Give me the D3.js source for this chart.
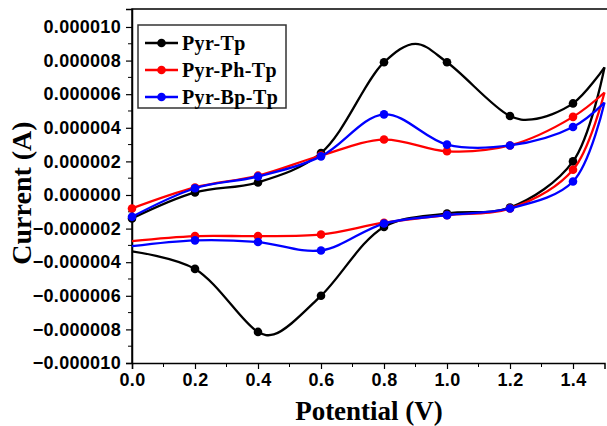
<!DOCTYPE html>
<html>
<head>
<meta charset="utf-8">
<script src="https://cdn.jsdelivr.net/npm/d3@7"></script>
<style>
  body { margin: 0; background: #fff; }
  .tick text { font-family: "Liberation Sans", Arial, sans-serif; font-weight: bold; font-size: 18px; letter-spacing: 0.3px; fill: #000; }
  .title { font-family: "Liberation Serif", "Times New Roman", serif; font-weight: bold; font-size: 27px; }
  .leg { font-family: "Liberation Serif", "Times New Roman", serif; font-weight: bold; font-size: 20px; letter-spacing: 0.4px; }
</style>
</head>
<body>
<script>
// current values in microamps (x 1e-6 A)
const seriesNames = ["Pyr-Tp", "Pyr-Ph-Tp", "Pyr-Bp-Tp"];
const seriesColors = ["#000000", "#ff0000", "#0000ff"];

// forward scan 0 -> 1.5 V, reverse scan 1.5 -> 0 V
const tpFwdV = [0, 0.2, 0.4, 0.6, 0.8, 0.9, 1.0, 1.2, 1.27, 1.4, 1.5];
const tpFwdI = [-1.4, 0.15, 0.75, 2.5, 7.9, 9.0, 7.9, 4.7, 4.5, 5.45, 7.6];
const tpRevV = [1.5, 1.4, 1.2, 1.0, 0.8, 0.6, 0.45, 0.4, 0.2, 0.0];
const tpRevI = [7.6, 2.0, -0.75, -1.1, -1.9, -6.0, -8.3, -8.15, -4.4, -3.35];

const phFwdV = [0, 0.2, 0.4, 0.6, 0.8, 1.0, 1.2, 1.4, 1.5];
const phFwdI = [-0.8, 0.45, 1.15, 2.35, 3.3, 2.6, 2.95, 4.65, 6.1];
const phRevV = [1.5, 1.4, 1.2, 1.0, 0.8, 0.6, 0.4, 0.2, 0.0];
const phRevI = [6.1, 1.5, -0.8, -1.2, -1.65, -2.35, -2.45, -2.45, -2.75];

const bpFwdV = [0, 0.2, 0.4, 0.6, 0.8, 1.0, 1.2, 1.4, 1.5];
const bpFwdI = [-1.3, 0.4, 1.1, 2.3, 4.8, 3.0, 2.95, 4.05, 5.5];
const bpRevV = [1.5, 1.4, 1.2, 1.0, 0.8, 0.6, 0.4, 0.2, 0.0];
const bpRevI = [5.5, 0.8, -0.8, -1.2, -1.7, -3.3, -2.8, -2.7, -3.05];

const xTicks = [0, 0.2, 0.4, 0.6, 0.8, 1.0, 1.2, 1.4];
const yTicks = [-10, -8, -6, -4, -2, 0, 2, 4, 6, 8, 10];

const W = 607, H = 426;
const plotL = 132, plotR = 604.5, plotT = 9, plotB = 363;

const svg = d3.select("body").append("svg").attr("width", W).attr("height", H);

const x = d3.scaleLinear().domain([0, 1.5]).range([plotL, plotR]);
const y = d3.scaleLinear().domain([-10e-6, 11.07e-6]).range([plotB, plotT]);

// frame (right side runs off the picture)
svg.append("path")
  .attr("d", `M${plotL},${plotB}V${plotT}H${W + 2}`)
  .attr("fill", "none").attr("stroke", "#000").attr("stroke-width", 1.5);

const xAxis = svg.append("g").attr("transform", `translate(0,${plotB})`)
  .call(d3.axisBottom(x).tickValues(xTicks).tickFormat(d3.format(".1f")).tickSize(6).tickPadding(4));
xAxis.append("g").selectAll("line")
  .data(d3.range(1, 15, 2).map(d => d / 10))
  .enter().append("line")
  .attr("x1", d => x(d)).attr("x2", d => x(d)).attr("y1", 0).attr("y2", 4)
  .attr("stroke", "#000");

const yAxis = svg.append("g").attr("transform", `translate(${plotL},0)`)
  .call(d3.axisLeft(y).tickValues(yTicks.map(d => d * 1e-6)).tickFormat(d3.format(".6f")).tickSize(6).tickPadding(5));
yAxis.append("g").selectAll("line")
  .data(d3.range(-9, 10, 2).map(d => d * 1e-6))
  .enter().append("line")
  .attr("y1", d => y(d)).attr("y2", d => y(d)).attr("x1", 0).attr("x2", -4)
  .attr("stroke", "#000");
svg.selectAll(".domain").attr("stroke-width", 1.5);
svg.selectAll(".tick line").attr("stroke-width", 1.2);

// curves
const series = [
  { fwdV: tpFwdV, fwdI: tpFwdI, revV: tpRevV, revI: tpRevI },
  { fwdV: phFwdV, fwdI: phFwdI, revV: phRevV, revI: phRevI },
  { fwdV: bpFwdV, fwdI: bpFwdI, revV: bpRevV, revI: bpRevI }
];

const line = d3.line()
  .x(d => x(d[0])).y(d => y(d[1] * 1e-6))
  .curve(d3.curveCatmullRom.alpha(0.5));

const onGrid = v => Math.abs(v * 5 - Math.round(v * 5)) < 1e-6;

[0, 1, 2].forEach(i => {
  const s = series[i];
  const fwd = s.fwdV.map((v, k) => [v, s.fwdI[k]]);
  const rev = s.revV.map((v, k) => [v, s.revI[k]]);
  const g = svg.append("g");
  [fwd, rev].forEach(pts => {
    g.append("path").attr("d", line(pts))
      .attr("fill", "none").attr("stroke", seriesColors[i]).attr("stroke-width", 2.3);
  });
  const marks = fwd.filter(p => onGrid(p[0]) && p[0] < 1.45)
    .concat(rev.filter(p => onGrid(p[0]) && p[0] > 0.05 && p[0] < 1.45));
  g.selectAll("circle").data(marks).enter().append("circle")
    .attr("cx", d => x(d[0])).attr("cy", d => y(d[1] * 1e-6))
    .attr("r", 4.3).attr("fill", seriesColors[i]);
});

// titles
svg.append("text").attr("class", "title")
  .attr("x", 369).attr("y", 420).attr("text-anchor", "middle")
  .text("Potential (V)");
svg.append("text").attr("class", "title")
  .style("font-size", "28px")
  .attr("transform", "translate(31,193) rotate(-90)").attr("text-anchor", "middle")
  .text("Current (A)");

// legend
const leg = svg.append("g");
leg.append("rect").attr("x", 138).attr("y", 25).attr("width", 148).attr("height", 83)
  .attr("fill", "#fff").attr("stroke", "#333").attr("stroke-width", 1.5);
seriesNames.forEach((name, i) => {
  const ly = 43 + i * 27;
  leg.append("line").attr("x1", 145).attr("x2", 178).attr("y1", ly).attr("y2", ly)
    .attr("stroke", seriesColors[i]).attr("stroke-width", 2.3);
  leg.append("circle").attr("cx", 161.5).attr("cy", ly).attr("r", 4.3).attr("fill", seriesColors[i]);
  leg.append("text").attr("class", "leg").attr("x", 182).attr("y", ly + 7)
    .text(name);
});
</script>
</body>
</html>
